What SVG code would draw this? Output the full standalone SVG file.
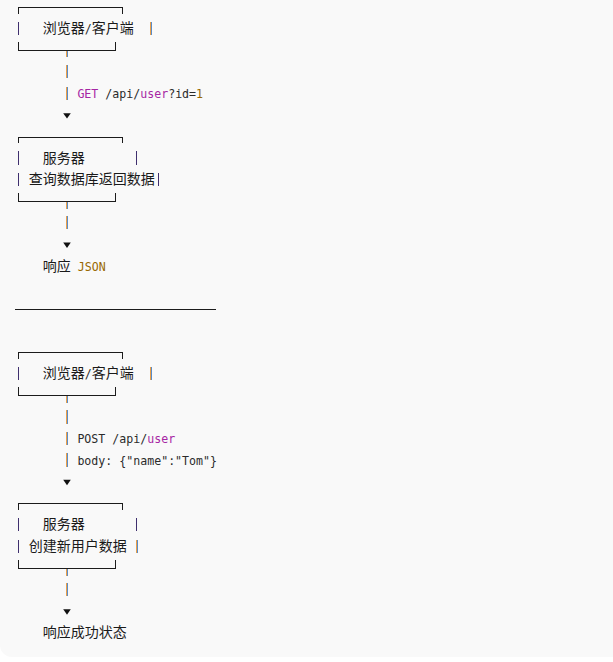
<svg xmlns="http://www.w3.org/2000/svg" width="613" height="662" viewBox="0 0 613 662">
<style>
.frame{fill:none;stroke:#1c1c1c;stroke-width:1;shape-rendering:crispEdges}
.vb{fill:none;stroke:#3f2f6e;stroke-width:1;shape-rendering:crispEdges}
.og{fill:none;stroke:#eaa04a;stroke-width:1;shape-rendering:crispEdges}
.bl{fill:none;stroke:#5a8cc8;stroke-width:1;shape-rendering:crispEdges}
.m{font-family:"DejaVu Sans Mono","Liberation Mono",monospace;font-size:11.6px;fill:#2b2b2b}
.c{font-family:"Noto Sans CJK SC","Noto Sans",sans-serif;font-size:14px;fill:#1a1a1a}
.kw{fill:#a626a4}
.num{fill:#986801}
.arrow{fill:#111}
</style>
<defs>
<path id="tri" d="M-3.8,0 H3.8 L0,5.4 Z"/>
</defs>
<path d="M0,0 H613 V657 H12 A12,12 0 0 1 0,645 Z" fill="#f9f9f9"/>

<g id="node-browser-1">
<path class="frame" d="M18.5,14 V7.5 H122.5 V14 M18.5,42.2 V50.5 H115.5 V42.2"/>
<path class="vb" d="M18.5,21.8 V35.3"/>
<path class="og" d="M150.5,21.8 V35.3"/>
<path class="bl" d="M151.5,21.8 V35.3"/>
<text x="42.8" y="33.3"><tspan class="c">浏览器</tspan><tspan class="m" font-size="12px">/</tspan><tspan class="c">客户端</tspan></text>
</g>

<g id="node-server-1">
<path class="frame" d="M18.5,143.4 V137.5 H122.5 V143.4 M18.5,193.2 V201.5 H115.5 V193.2"/>
<path class="vb" d="M18.5,151.2 V164.7 M18.5,172.8 V186.3 M136.5,151.2 V164.7 M158.5,172.8 V186.3"/>
<text class="c" x="42.8" y="162.7">服务器</text>
<text class="c" x="28.8" y="184.3">查询数据库返回数据</text>
</g>

<g id="node-response-1">
<text x="42.8" y="270.5" xml:space="preserve"><tspan class="c">响应</tspan><tspan class="m"> </tspan><tspan class="m num">JSON</tspan></text>
</g>

<g id="separator">
<path class="frame" d="M15,309.5 H216"/>
</g>

<g id="node-browser-2">
<path class="frame" d="M18.5,359.1 V352.5 H122.5 V359.1 M18.5,387.2 V395.5 H115.5 V387.2"/>
<path class="vb" d="M18.5,366.9 V380.4"/>
<path class="og" d="M150.5,366.9 V380.4"/>
<path class="bl" d="M151.5,366.9 V380.4"/>
<text x="42.8" y="378.4"><tspan class="c">浏览器</tspan><tspan class="m" font-size="12px">/</tspan><tspan class="c">客户端</tspan></text>
</g>

<g id="node-server-2">
<path class="frame" d="M18.5,510.1 V503.5 H122.5 V510.1 M18.5,560.2 V568.5 H115.5 V560.2"/>
<path class="vb" d="M18.5,517.9 V531.4 M18.5,539.5 V553 M136.5,517.9 V531.4"/>
<path class="og" d="M136.5,539.5 V553"/>
<path class="bl" d="M137.5,539.5 V553"/>
<text class="c" x="42.8" y="529.4">服务器</text>
<text class="c" x="28.8" y="551">创建新用户数据</text>
</g>

<g id="node-response-2">
<text class="c" x="42.8" y="637.2">响应成功状态</text>
</g>

<g id="connectors">
<path class="og" d="M66.5,50.5 V57.3 M66.5,64.9 V78.4 M66.5,86.5 V100 M66.5,201.5 V208.5 M66.5,215.9 V229.4 M66.5,395.5 V402.5 M66.5,410 V423.5 M66.5,431.6 V445.1 M66.5,453.2 V466.7 M66.5,568.5 V575.5 M66.5,582.6 V596.1"/>
<path class="bl" d="M67.5,50.5 V57.3 M67.5,64.9 V78.4 M67.5,86.5 V100 M67.5,201.5 V208.5 M67.5,215.9 V229.4 M67.5,395.5 V402.5 M67.5,410 V423.5 M67.5,431.6 V445.1 M67.5,453.2 V466.7 M67.5,568.5 V575.5 M67.5,582.6 V596.1"/>
<use href="#tri" class="arrow" x="67" y="113.2"/>
<use href="#tri" class="arrow" x="67" y="242.6"/>
<use href="#tri" class="arrow" x="67" y="479.8"/>
<use href="#tri" class="arrow" x="67" y="609.3"/>
<text class="m" x="77.4" y="98" xml:space="preserve"><tspan class="kw">GET</tspan> /api/<tspan class="kw">user</tspan>?id=<tspan class="num">1</tspan></text>
<text class="m" x="77.4" y="443.1" xml:space="preserve">POST /api/<tspan class="kw">user</tspan></text>
<text class="m" x="77.4" y="464.7">body: {"name":"Tom"}</text>
</g>
</svg>
